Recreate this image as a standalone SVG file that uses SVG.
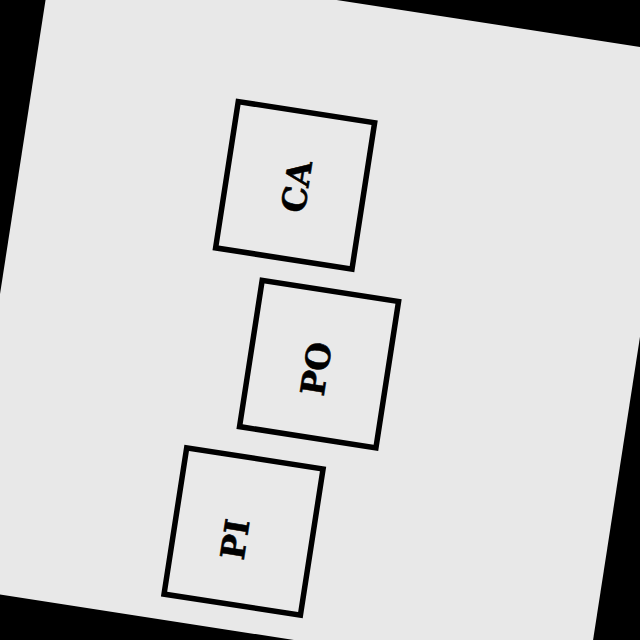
<svg xmlns="http://www.w3.org/2000/svg" width="640" height="640" viewBox="0 0 640 640">
  <style>
    .box { fill: #e9e9e9; stroke: #000; stroke-width: 5.5; }
    .lbl { font-family: "DejaVu Serif", "Liberation Serif", serif; font-weight: bold; font-size: 33px; fill: #000; stroke: #000; stroke-width: 0.6; text-anchor: middle; dominant-baseline: central; }
  </style>
  <rect x="0" y="0" width="640" height="640" fill="#000"/>
  <g transform="rotate(8.8)">
    <rect x="45" y="-51.5" width="639" height="639" fill="#e8e8e8"/>
    <g id="connectors"></g>
    <g id="CA">
      <rect class="box" x="251" y="64" width="138" height="148"/>
      <text class="lbl" transform="translate(322,139) rotate(-90)">CA</text>
    </g>
    <g id="PO">
      <rect class="box" x="302" y="237" width="138" height="148"/>
      <text class="lbl" transform="translate(369,316) rotate(-90)">PO</text>
    </g>
    <g id="PI">
      <rect class="box" x="253" y="414" width="138" height="148"/>
      <text class="lbl" transform="translate(315,497) rotate(-90)">PI</text>
    </g>
  </g>
</svg>
